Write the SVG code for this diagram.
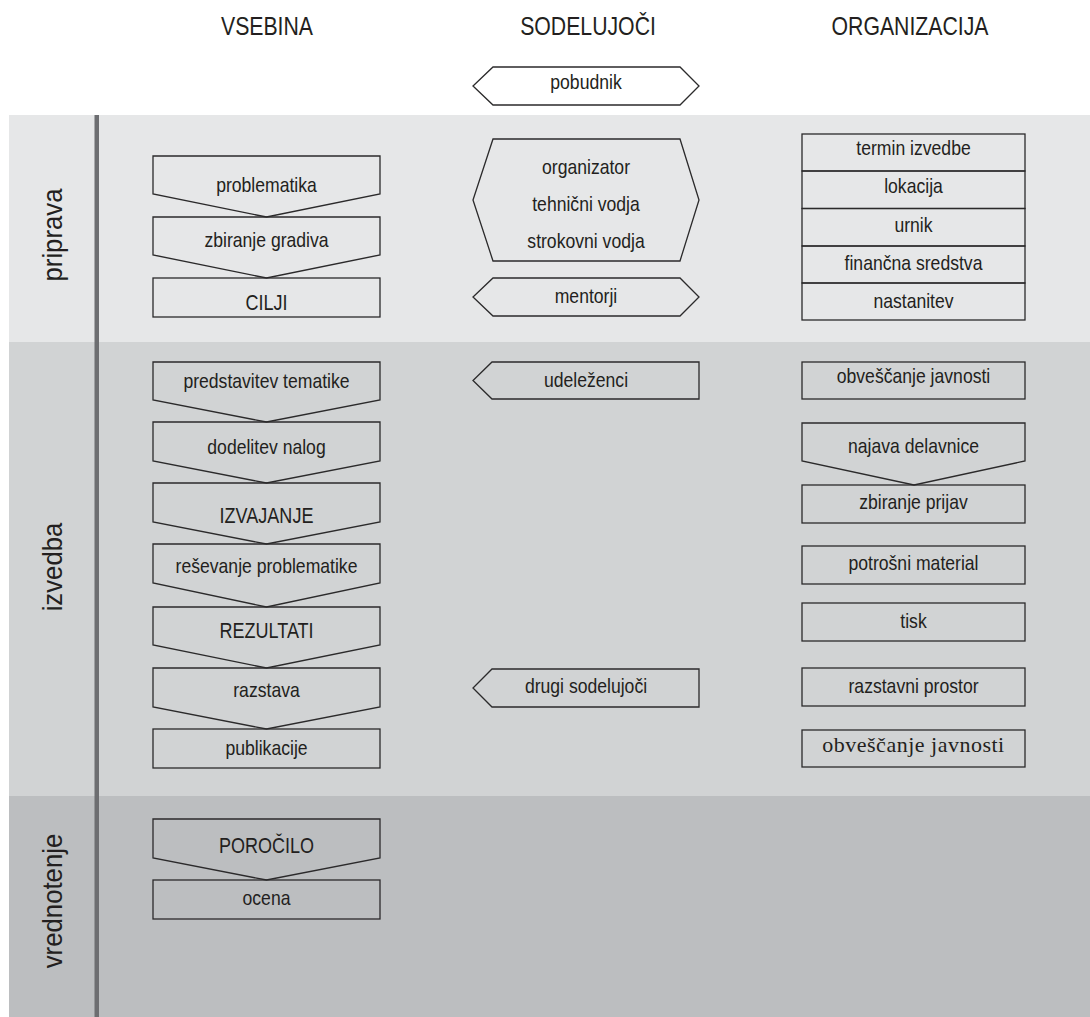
<svg xmlns="http://www.w3.org/2000/svg" width="1090" height="1017" viewBox="0 0 1090 1017">
<style>
.bg{fill:#ffffff}
.b1{fill:#e6e7e8}
.b2{fill:#d1d3d4}
.b3{fill:#bcbec0}
.bar{fill:#6d6e71}
.box{fill:none;stroke:#2b2a2b;stroke-width:1.3}
.wbox{fill:#ffffff;stroke:#2b2a2b;stroke-width:1.3}
text{font-family:"Liberation Sans",Arial,sans-serif;fill:#231f20;text-anchor:middle}
.l{font-size:20px}
.c{font-size:22px}
.h{font-size:25px}
.s{font-size:28px}
.serif{font-family:"Liberation Serif","Times New Roman",serif;font-size:22px;letter-spacing:0.5px}
</style>
<rect class="bg" x="0" y="0" width="1090" height="1017"/>
<g id="bands">
<rect class="b1" x="9" y="115" width="1081" height="227"/>
<rect class="b2" x="9" y="342" width="1081" height="454"/>
<rect class="b3" x="9" y="796" width="1081" height="221"/>
<rect class="bar" x="94.5" y="115" width="4.5" height="902"/>
</g>
<g id="headers">
<text class="h" transform="translate(267,35) scale(0.85,1)">VSEBINA</text>
<text class="h" transform="translate(588,35) scale(0.85,1)">SODELUJOČI</text>
<text class="h" transform="translate(910,35) scale(0.85,1)">ORGANIZACIJA</text>
</g>
<g id="phases">
<text class="s" transform="translate(62,235) rotate(-90) scale(0.92,1)">priprava</text>
<text class="s" transform="translate(62,567) rotate(-90) scale(0.92,1)">izvedba</text>
<text class="s" transform="translate(62,901) rotate(-90) scale(0.92,1)">vrednotenje</text>
</g>
<g id="connectors"></g>
<!-- VSEBINA column -->
<g id="problematika">
<polygon class="box" points="153,156 380,156 380,194 266.5,217 153,194"/>
<text class="l" transform="translate(266.5,192) scale(0.88,1)">problematika</text>
</g>
<g id="zbiranje-gradiva">
<polygon class="box" points="153,217 380,217 380,255 266.5,278 153,255"/>
<text class="l" transform="translate(266.5,247) scale(0.88,1)">zbiranje gradiva</text>
</g>
<g id="cilji">
<rect class="box" x="153" y="278" width="227" height="39"/>
<text class="c" transform="translate(266.5,310) scale(0.82,1)">CILJI</text>
</g>
<g id="predstavitev-tematike">
<polygon class="box" points="153,362 380,362 380,400 266.5,422 153,400"/>
<text class="l" transform="translate(266.5,388) scale(0.88,1)">predstavitev tematike</text>
</g>
<g id="dodelitev-nalog">
<polygon class="box" points="153,422 380,422 380,461 266.5,483 153,461"/>
<text class="l" transform="translate(266.5,454) scale(0.88,1)">dodelitev nalog</text>
</g>
<g id="izvajanje">
<polygon class="box" points="153,483 380,483 380,522 266.5,544 153,522"/>
<text class="c" transform="translate(266.5,523) scale(0.82,1)">IZVAJANJE</text>
</g>
<g id="resevanje-problematike">
<polygon class="box" points="153,544 380,544 380,583 266.5,607 153,583"/>
<text class="l" transform="translate(266.5,573) scale(0.88,1)">reševanje problematike</text>
</g>
<g id="rezultati">
<polygon class="box" points="153,607 380,607 380,645 266.5,668 153,645"/>
<text class="c" transform="translate(266.5,638) scale(0.82,1)">REZULTATI</text>
</g>
<g id="razstava">
<polygon class="box" points="153,668 380,668 380,707 266.5,729 153,707"/>
<text class="l" transform="translate(266.5,697) scale(0.88,1)">razstava</text>
</g>
<g id="publikacije">
<rect class="box" x="153" y="729" width="227" height="39"/>
<text class="l" transform="translate(266.5,755) scale(0.88,1)">publikacije</text>
</g>
<g id="porocilo">
<polygon class="box" points="153,819 380,819 380,858 266.5,880 153,858"/>
<text class="c" transform="translate(266.5,853) scale(0.82,1)">POROČILO</text>
</g>
<g id="ocena">
<rect class="box" x="153" y="880" width="227" height="39"/>
<text class="l" transform="translate(266.5,905) scale(0.88,1)">ocena</text>
</g>
<!-- SODELUJOČI column -->
<g id="pobudnik">
<polygon class="wbox" points="493,67 680,67 699,86 680,105 493,105 473,86"/>
<text class="l" transform="translate(586,89) scale(0.88,1)">pobudnik</text>
</g>
<g id="vodje">
<polygon class="box" points="493,139 680,139 699,200 680,261 493,261 473,200"/>
<text class="l" transform="translate(586,174) scale(0.88,1)">organizator</text>
<text class="l" transform="translate(586,211) scale(0.88,1)">tehnični vodja</text>
<text class="l" transform="translate(586,248) scale(0.88,1)">strokovni vodja</text>
</g>
<g id="mentorji">
<polygon class="box" points="493,278 680,278 699,297 680,316 493,316 473,297"/>
<text class="l" transform="translate(586,303) scale(0.88,1)">mentorji</text>
</g>
<g id="udelezenci">
<polygon class="box" points="492,362 699,362 699,399 492,399 473,380.5"/>
<text class="l" transform="translate(586,387) scale(0.88,1)">udeleženci</text>
</g>
<g id="drugi-sodelujoci">
<polygon class="box" points="492,669 699,669 699,707 492,707 473,688"/>
<text class="l" transform="translate(586,693) scale(0.88,1)">drugi sodelujoči</text>
</g>
<!-- ORGANIZACIJA column -->
<g id="termin-izvedbe">
<rect class="box" x="802" y="134" width="223" height="37"/>
<text class="l" transform="translate(913.5,155) scale(0.88,1)">termin izvedbe</text>
</g>
<g id="lokacija">
<rect class="box" x="802" y="171" width="223" height="37.5"/>
<text class="l" transform="translate(913.5,193) scale(0.88,1)">lokacija</text>
</g>
<g id="urnik">
<rect class="box" x="802" y="208.5" width="223" height="37.5"/>
<text class="l" transform="translate(913.5,232) scale(0.88,1)">urnik</text>
</g>
<g id="financna-sredstva">
<rect class="box" x="802" y="246" width="223" height="37"/>
<text class="l" transform="translate(913.5,270) scale(0.88,1)">finančna sredstva</text>
</g>
<g id="nastanitev">
<rect class="box" x="802" y="283" width="223" height="37"/>
<text class="l" transform="translate(913.5,308) scale(0.88,1)">nastanitev</text>
</g>
<g id="obvescanje-javnosti-1">
<rect class="box" x="802" y="362" width="223" height="37"/>
<text class="l" transform="translate(913.5,383) scale(0.88,1)">obveščanje javnosti</text>
</g>
<g id="najava-delavnice">
<polygon class="box" points="802,423 1025,423 1025,461 914,485 802,461"/>
<text class="l" transform="translate(913.5,453) scale(0.88,1)">najava delavnice</text>
</g>
<g id="zbiranje-prijav">
<rect class="box" x="802" y="485" width="223" height="38"/>
<text class="l" transform="translate(913.5,509) scale(0.88,1)">zbiranje prijav</text>
</g>
<g id="potrosni-material">
<rect class="box" x="802" y="546" width="223" height="38"/>
<text class="l" transform="translate(913.5,570) scale(0.88,1)">potrošni material</text>
</g>
<g id="tisk">
<rect class="box" x="802" y="603" width="223" height="38"/>
<text class="l" transform="translate(913.5,628) scale(0.88,1)">tisk</text>
</g>
<g id="razstavni-prostor">
<rect class="box" x="802" y="668" width="223" height="38"/>
<text class="l" transform="translate(913.5,693) scale(0.88,1)">razstavni prostor</text>
</g>
<g id="obvescanje-javnosti-2">
<rect class="box" x="802" y="730" width="223" height="37"/>
<text class="serif" x="913.5" y="752">obveščanje javnosti</text>
</g>
</svg>
